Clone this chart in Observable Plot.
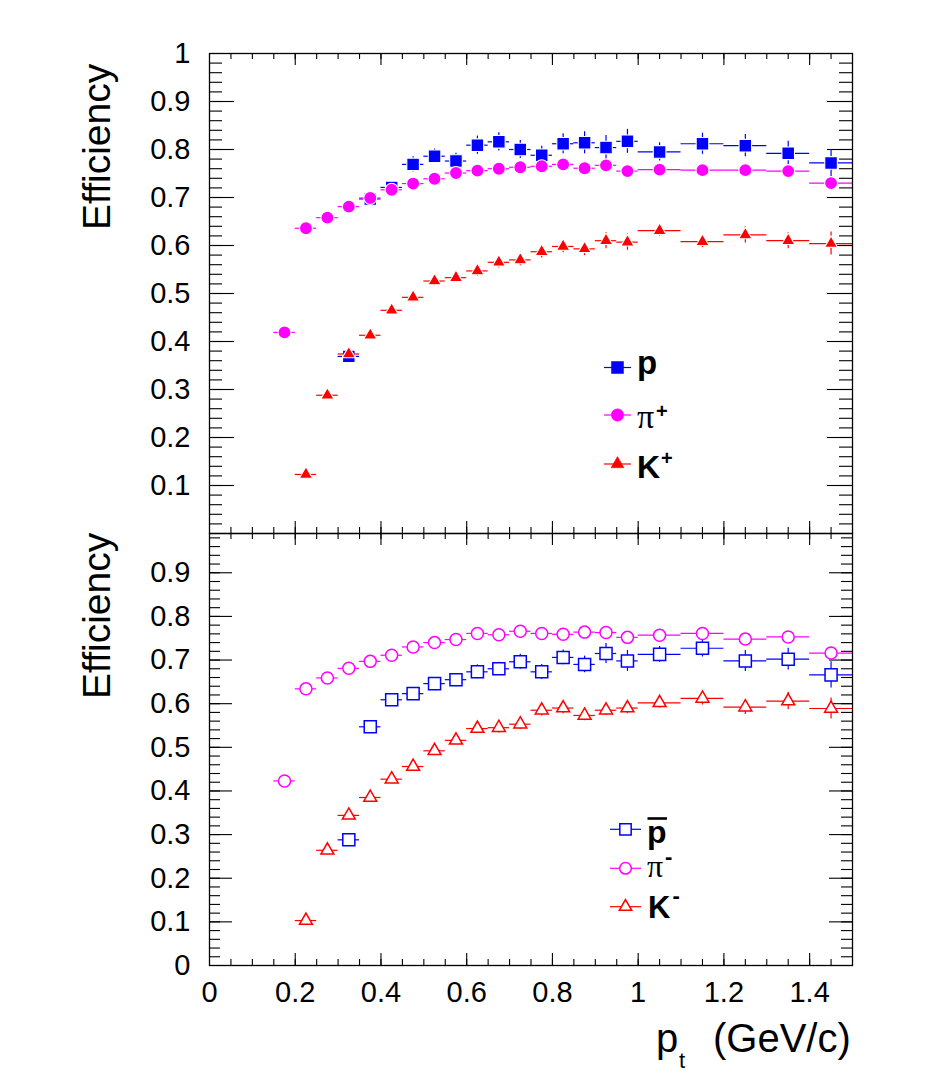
<!DOCTYPE html>
<html><head><meta charset="utf-8">
<script src="https://cdn.jsdelivr.net/npm/d3@7"></script>
<script src="https://cdn.jsdelivr.net/npm/@observablehq/plot@0.6"></script>
<style>
body{margin:0;background:#fff;}
#wrap{position:relative;width:950px;height:1074px;background:#fff;overflow:hidden;font-family:"Liberation Sans",Arial,Helvetica,sans-serif;}
#top,#bot,#ov{position:absolute;left:0;}
#top{top:0px}
#bot{top:532px}
#ov{top:0px;pointer-events:none}
</style></head><body>
<div id="wrap"><div id="top"></div><div id="bot"></div><svg id="ov" width="950" height="1074"></svg></div>
<script>
// ---- bins (pt, GeV/c) ----
const binLow    = [0.15,0.20,0.25,0.30,0.35,0.40,0.45,0.50,0.55,0.60,0.65,0.70,0.75,0.80,0.85,0.90,0.95,1.0,1.1,1.2,1.3,1.4];
const binHigh   = [0.20,0.25,0.30,0.35,0.40,0.45,0.50,0.55,0.60,0.65,0.70,0.75,0.80,0.85,0.90,0.95,1.00,1.1,1.2,1.3,1.4,1.5];
const binCenter = [0.175,0.225,0.275,0.325,0.375,0.425,0.475,0.525,0.575,0.625,0.675,0.725,0.775,0.825,0.875,0.925,0.975,1.05,1.15,1.25,1.35,1.45];

// ---- top panel: p, pi+, K+ ----
const effP      = [null,null,null,0.369,0.697,0.721,0.769,0.786,0.776,0.809,0.816,0.800,0.788,0.812,0.814,0.804,0.817,0.795,0.812,0.808,0.792,0.772];
const errP      = [null,null,null,0.008,0.010,0.010,0.016,0.015,0.016,0.019,0.019,0.019,0.019,0.021,0.023,0.025,0.025,0.019,0.022,0.023,0.025,0.028];
const effPiPlus = [0.419,0.636,0.658,0.681,0.699,0.716,0.729,0.739,0.751,0.756,0.760,0.763,0.765,0.769,0.761,0.767,0.755,0.758,0.757,0.757,0.755,0.730];
const errPiPlus = [0.006,0.005,0.005,0.005,0.005,0.005,0.005,0.005,0.005,0.005,0.005,0.005,0.005,0.006,0.006,0.006,0.007,0.006,0.007,0.008,0.009,0.012];
const effKPlus  = [null,0.123,0.288,0.374,0.413,0.465,0.492,0.526,0.533,0.547,0.565,0.570,0.587,0.598,0.593,0.610,0.607,0.631,0.608,0.622,0.610,0.604];
const errKPlus  = [null,0.005,0.006,0.006,0.007,0.008,0.009,0.010,0.010,0.011,0.012,0.012,0.013,0.013,0.014,0.017,0.017,0.011,0.012,0.017,0.017,0.024];

// ---- bottom panel: pbar, pi-, K- ----
const effPbar    = [null,null,null,0.288,0.547,0.609,0.623,0.646,0.655,0.673,0.680,0.696,0.673,0.706,0.690,0.715,0.698,0.713,0.727,0.698,0.702,0.666];
const errPbar    = [null,null,null,0.008,0.010,0.010,0.010,0.012,0.014,0.016,0.015,0.017,0.017,0.017,0.019,0.023,0.024,0.018,0.020,0.024,0.025,0.030];
const effPiMinus = [0.423,0.634,0.659,0.681,0.697,0.711,0.730,0.740,0.747,0.761,0.758,0.766,0.761,0.759,0.764,0.763,0.752,0.757,0.761,0.748,0.753,0.716];
const errPiMinus = [0.006,0.005,0.005,0.005,0.005,0.005,0.005,0.005,0.005,0.005,0.005,0.005,0.005,0.006,0.006,0.006,0.007,0.006,0.007,0.008,0.009,0.012];
const effKMinus  = [null,0.103,0.264,0.344,0.385,0.427,0.456,0.492,0.516,0.543,0.545,0.553,0.585,0.590,0.573,0.585,0.590,0.602,0.612,0.592,0.606,0.589];
const errKMinus  = [null,0.005,0.006,0.006,0.007,0.008,0.009,0.010,0.010,0.011,0.012,0.012,0.013,0.013,0.012,0.012,0.013,0.012,0.015,0.017,0.020,0.024];

// ---- ticks / labels ----
const yLabelsTop = [0.1,0.2,0.3,0.4,0.5,0.6,0.7,0.8,0.9,1];
const yLabelsBot = [0,0.1,0.2,0.3,0.4,0.5,0.6,0.7,0.8,0.9];
const yMajorTop  = [0.1,0.2,0.3,0.4,0.5,0.6,0.7,0.8,0.9];
const yMajorBot  = [0.1,0.2,0.3,0.4,0.5,0.6,0.7,0.8,0.9];
const xLabels    = [0,0.2,0.4,0.6,0.8,1,1.2,1.4];
const xMajor     = [0.2,0.4,0.6,0.8,1,1.2,1.4];
const yMinorTop  = d3.range(0.02, 0.999, 0.02);
const yMinorBot  = d3.range(0.02, 0.985, 0.02);
const xMinor     = d3.range(0.05, 1.499, 0.05);

const BLUE = "#0000ff", MAG = "#ff00ff", RED = "#ff0000";
const W = 950, ML = 209, MR = 98, PW = W - ML - MR;
const PH_TOP = 480, PH_BOT = 432;
const FONT = "'Liberation Sans', Arial, Helvetica, sans-serif";

function rows(eff, err) {
  return binCenter.map((pt, i) => ({pt, lo: binLow[i], hi: binHigh[i], eff: eff[i], err: err[i]}))
                  .filter(d => d.eff != null);
}

function seriesMarks(data, color, symbol, r, filled) {
  return [
    Plot.ruleY(data, {y: "eff", x1: "lo", x2: "hi", stroke: color, strokeWidth: 1.2}),
    Plot.ruleX(data, {x: "pt", y1: d => d.eff - d.err, y2: d => d.eff + d.err, stroke: color, strokeWidth: 1.2}),
    filled
      ? Plot.dot(data, {x: "pt", y: "eff", symbol, r, fill: color, stroke: "white", strokeWidth: 1.1})
      : Plot.dot(data, {x: "pt", y: "eff", symbol, r, fill: "white", stroke: color, strokeWidth: 1.5})
  ];
}

function frameTicks(PH, yMajor, yMinor, majLen, minLen, topDown, bottomUp) {
  const k = {stroke: "black", strokeWidth: 1.1};
  return [
    Plot.tickY(yMinor, {y: d => d, insetRight: PW - minLen, ...k}),
    Plot.tickY(yMajor, {y: d => d, insetRight: PW - majLen, ...k}),
    Plot.tickY(yMinor, {y: d => d, insetLeft: PW - minLen, ...k}),
    Plot.tickY(yMajor, {y: d => d, insetLeft: PW - majLen, ...k}),
    Plot.tickX(xMinor, {x: d => d, insetTop: PH - topDown[1], ...k}),
    Plot.tickX(xMajor, {x: d => d, insetTop: PH - topDown[0], ...k}),
    Plot.tickX(xMinor, {x: d => d, insetBottom: PH - bottomUp[1], ...k}),
    Plot.tickX(xMajor, {x: d => d, insetBottom: PH - bottomUp[0], ...k})
  ];
}

const style = {fontFamily: FONT, fontSize: "29px", color: "black", background: "transparent", overflow: "visible"};

const topPlot = Plot.plot({
  width: W, height: 53 + PH_TOP + 2,
  marginLeft: ML, marginRight: MR, marginTop: 53, marginBottom: 2,
  x: {domain: [0, 1.5], axis: null},
  y: {domain: [0, 1]},
  style,
  marks: [
    ...frameTicks(PH_TOP, yMajorTop, yMinorTop, 25, 13, [12, 6], [12, 6]),
    Plot.axisY({ticks: yLabelsTop, tickSize: 0, tickPadding: 19, tickFormat: d3.format("~g"), fontSize: 29, label: null}),
    ...seriesMarks(rows(effP, errP), BLUE, "square", 7.1, true),
    ...seriesMarks(rows(effPiPlus, errPiPlus), MAG, "circle", 6.5, true),
    ...seriesMarks(rows(effKPlus, errKPlus), RED, "triangle", 4.9, true),
    Plot.frame({stroke: "black", strokeWidth: 1.3})
  ]
});
document.getElementById("top").appendChild(topPlot);

const botPlot = Plot.plot({
  width: W, height: 1 + PH_BOT + 109,
  marginLeft: ML, marginRight: MR, marginTop: 1, marginBottom: 109,
  x: {domain: [0, 1.5]},
  y: {domain: [0, 0.99]},
  style,
  marks: [
    ...frameTicks(PH_BOT, yMajorBot, yMinorBot, 23, 11, [12, 6], [12, 6]),
    Plot.axisY({ticks: yLabelsBot, tickSize: 0, tickPadding: 19, tickFormat: d3.format("~g"), fontSize: 29, label: null}),
    Plot.axisX({ticks: xLabels, tickSize: 0, tickPadding: 16, tickFormat: d3.format("~g"), fontSize: 29, label: null}),
    ...seriesMarks(rows(effPbar, errPbar), BLUE, "square", 6.8, false),
    ...seriesMarks(rows(effPiMinus, errPiMinus), MAG, "circle", 6.0, false),
    ...seriesMarks(rows(effKMinus, errKMinus), RED, "triangle", 4.8, false),
    Plot.frame({stroke: "black", strokeWidth: 1.3})
  ]
});
document.getElementById("bot").appendChild(botPlot);

// ---- overlay: axis titles and legends ----
const ov = d3.select("#ov");
function txt(x, y, s, size, opts = {}) {
  return ov.append("text").attr("x", x).attr("y", y).text(s)
    .attr("font-family", opts.serif ? "'Liberation Serif', 'Times New Roman', serif" : FONT)
    .attr("font-size", size).attr("font-weight", opts.bold ? "bold" : "normal").attr("fill", "black");
}
// y titles
ov.append("text").attr("transform", "translate(110,230) rotate(-90)").text("Efficiency")
  .attr("font-family", FONT).attr("font-size", 39).attr("fill", "black");
ov.append("text").attr("transform", "translate(110,699) rotate(-90)").text("Efficiency")
  .attr("font-family", FONT).attr("font-size", 39).attr("fill", "black");
// x title
txt(656, 1052, "p", 40);
txt(679, 1068, "t", 22);
txt(713, 1052, "(GeV/c)", 40);

function legendEntry(x0, x1, y, color, sym, r, filled) {
  ov.append("line").attr("x1", x0).attr("x2", x1).attr("y1", y).attr("y2", y)
    .attr("stroke", color).attr("stroke-width", 1.2);
  ov.append("path").attr("d", d3.symbol(sym, Math.PI * r * r)())
    .attr("transform", `translate(${(x0 + x1) / 2},${y})`)
    .attr("fill", filled ? color : "white").attr("stroke", color)
    .attr("stroke-width", filled ? 0.5 : 1.5);
}
// top legend
legendEntry(604, 631, 367.5, BLUE, d3.symbolSquare, 6.8, true);
txt(637, 374, "p", 33, {bold: true});
legendEntry(604, 631, 415, MAG, d3.symbolCircle, 6.2, true);
txt(637, 428, "\u03C0", 34, {serif: true});
txt(656, 418, "+", 20, {bold: true});
legendEntry(604, 631, 464, RED, d3.symbolTriangle, 4.8, true);
txt(637, 478, "K", 32, {bold: true});
txt(661, 464.5, "+", 20, {bold: true});
// bottom legend
legendEntry(610, 641, 829.3, BLUE, d3.symbolSquare, 6.4, false);
txt(647, 843, "p", 32, {bold: true});
ov.append("line").attr("x1", 647.5).attr("x2", 667).attr("y1", 818.5).attr("y2", 818.5)
  .attr("stroke", "black").attr("stroke-width", 2.6);
legendEntry(610, 641, 868.3, MAG, d3.symbolCircle, 5.8, false);
txt(647, 877, "\u03C0", 32, {serif: true});
txt(665, 863.5, "-", 22, {bold: true});
legendEntry(610, 641, 906.7, RED, d3.symbolTriangle, 4.6, false);
txt(648, 918, "K", 31, {bold: true});
txt(672.5, 903, "-", 22, {bold: true});
</script>
</body></html>
